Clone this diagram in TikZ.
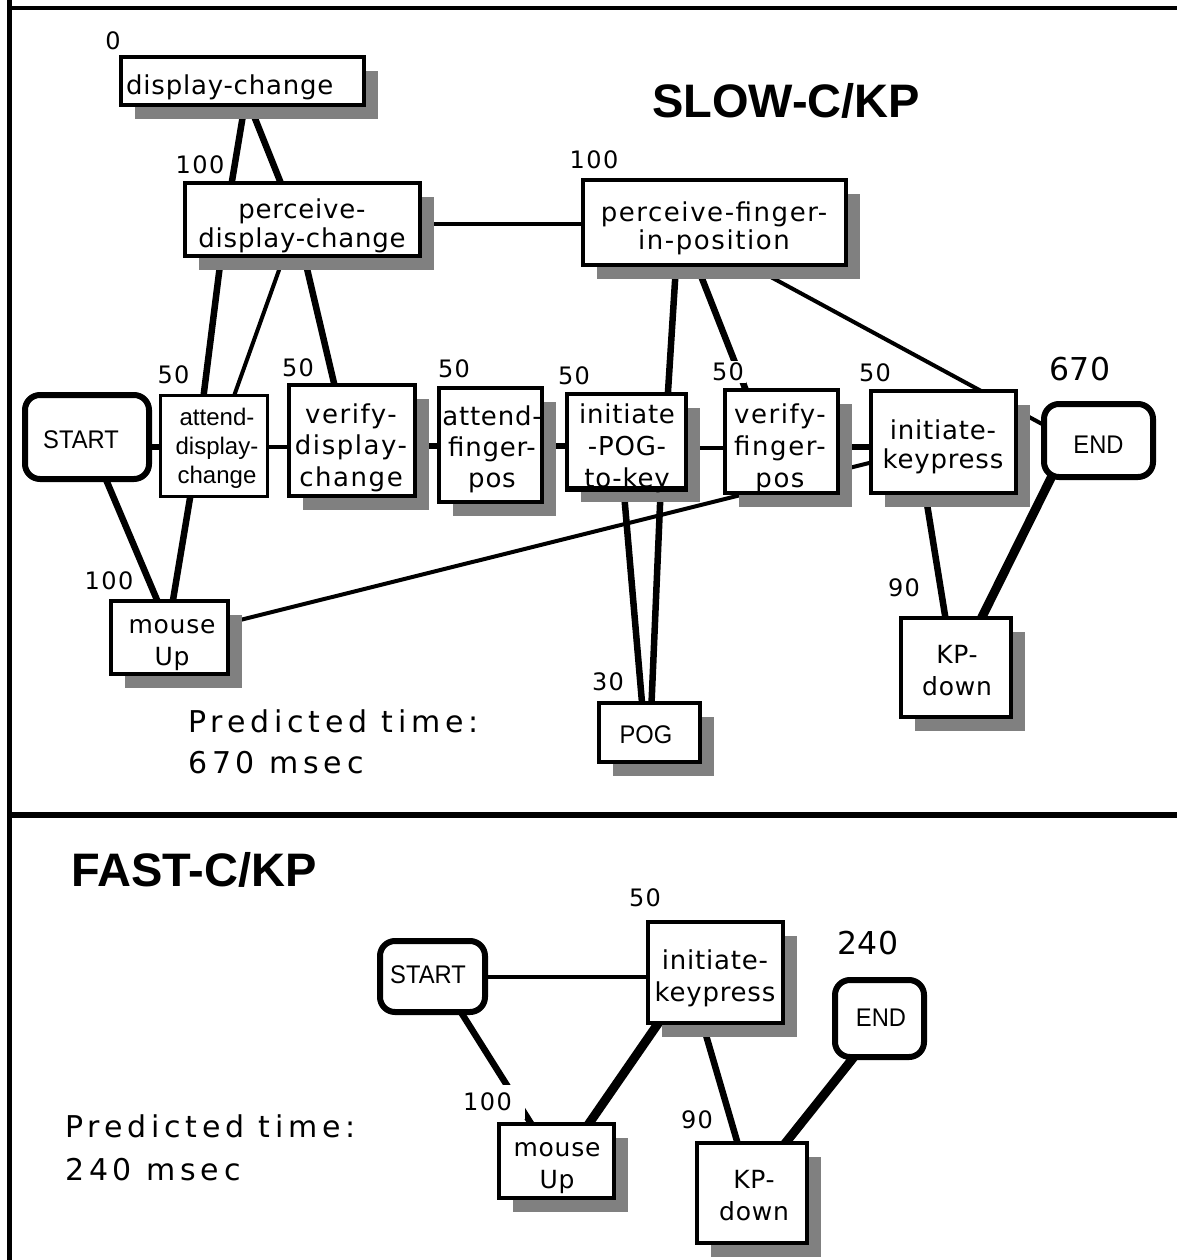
\documentclass[tikz,border=0pt]{standalone}
\usepackage{fontspec}
\usetikzlibrary{calc,shadows,backgrounds}
\newfontfamily\gA[LetterSpace=3]{DejaVu Sans}
\newfontfamily\gB[LetterSpace=6]{DejaVu Sans}
\newfontfamily\gL[LetterSpace=6]{DejaVu Sans}
\newfontfamily\gP[LetterSpace=16]{DejaVu Sans}
\newfontfamily\gN{DejaVu Sans}
\newfontfamily\hN[FakeStretch=0.93]{Liberation Sans}
\newfontfamily\hR{Liberation Sans}
\definecolor{shgray}{RGB}{128,128,128}
\newcommand\tl[1]{\begin{tabular}{@{}c@{}}#1\end{tabular}}
\tikzset{
  sbox/.style={draw, line width=4pt, fill=white, inner sep=0pt,
    drop shadow={shadow xshift=14pt, shadow yshift=-14pt, opacity=1, fill=shgray}},
  pbox/.style={draw, line width=3.5pt, fill=white, inner sep=0pt},
  rbox/.style={draw, line width=6pt, fill=white, rounded corners=15pt, inner sep=0pt},
  txt/.style={inner sep=0pt, anchor=north},
  lab/.style={fill=white, inner sep=2pt, font=\gL\fontsize{24}{26}\selectfont},
  big/.style={inner sep=1pt, font=\gN\fontsize{31.5}{34}\selectfont},
  wthin/.style={line width=4pt},
  wmed/.style={line width=4.5pt},
  wthick/.style={line width=6.5pt},
  wheavy/.style={line width=9pt},
  frame/.style={line width=5pt}
}
\begin{document}
\begin{tikzpicture}[x=1pt,y=-1pt]
\useasboundingbox (0,0) rectangle (1177,1260);
% frame
\draw[frame] (9,0) -- (9,1260);
\draw[frame, line width=4pt] (7,8) -- (1177,8);
\draw[frame, line width=5.5pt] (9,815) -- (1177,815);

% ---------- SLOW ----------
\node[sbox, minimum width=243pt, minimum height=48pt] (dc) at (242.5,81) {};
\node[sbox, minimum width=235pt, minimum height=73pt] (pdc) at (302.5,219.5) {};
\node[sbox, minimum width=263pt, minimum height=85pt] (pfip) at (714.5,222.5) {};
\node[rbox, minimum width=124pt, minimum height=84pt] (st) at (87,437) {};
\node[pbox, minimum width=107pt, minimum height=101pt] (adc) at (214,446) {};
\node[sbox, minimum width=126pt, minimum height=111pt] (vdc) at (352,440.5) {};
\node[sbox, minimum width=103pt, minimum height=114pt] (afp) at (490.5,445) {};
\node[sbox, minimum width=119pt, minimum height=94pt] (ipog) at (626.5,441) {};
\node[sbox, minimum width=113pt, minimum height=103pt] (vfp) at (781.5,441.5) {};
\node[sbox, minimum width=145pt, minimum height=102pt] (ikp) at (943.5,442) {};
\node[rbox, minimum width=109pt, minimum height=73pt] (en) at (1098.5,440.5) {};
\node[sbox, minimum width=117pt, minimum height=73pt] (mu) at (169.5,637.5) {};
\node[sbox, minimum width=110pt, minimum height=99pt] (kpd) at (956,667.5) {};
\node[sbox, minimum width=101pt, minimum height=59pt] (pog) at (649.5,732.5) {};

% texts
\node[inner sep=0pt, anchor=base west, font=\gA\fontsize{26}{30}\selectfont] at (126,95) {display-change};
\node[txt, font=\gA\fontsize{26}{29}\selectfont] at (302,197.7) {\tl{perceive-\\display-change}};
\node[txt, font=\gB\fontsize{26}{28}\selectfont] at (714,201.4) {\tl{perceive-finger-\\in-position}};
\node[inner sep=0pt, anchor=base, font=\hN\fontsize{25.5}{28}\selectfont] at (81,448) {START};
\node[txt, font=\hR\fontsize{24}{29}\selectfont] at (217,404.7) {\tl{attend-\\display-\\change}};
\node[txt, font=\gB\fontsize{26}{31.5}\selectfont] at (351,401) {\tl{verify-\\display-\\change}};
\node[txt, font=\gA\fontsize{26}{31}\selectfont] at (492,403.3) {\tl{attend-\\finger-\\pos}};
\node[txt, font=\gA\fontsize{26}{32}\selectfont] at (627,400.6) {\tl{initiate\\-POG-\\to-key}};
\draw[line width=4pt] (ipog.south west) -- (ipog.south east);
\node[txt, font=\gB\fontsize{26}{32}\selectfont] at (780,400.6) {\tl{verify-\\finger-\\pos}};
\node[txt, font=\gA\fontsize{26}{29}\selectfont] at (943,418.7) {\tl{initiate-\\keypress}};
\node[inner sep=0pt, anchor=base, font=\hN\fontsize{25.5}{28}\selectfont] at (1098.5,453) {END};
\node[txt, font=\gA\fontsize{25}{32}\selectfont] at (172,610.6) {\tl{mouse\\Up}};
\node[txt, font=\gA\fontsize{25}{32}\selectfont] at (957,640.6) {\tl{KP-\\down}};
\node[inner sep=0pt, anchor=base, font=\hN\fontsize{25.5}{28}\selectfont] at (646,743) {POG};

% labels
\node[lab] (l1) at (113,41) {0};
\node[lab] (l2) at (200,165) {100};
\node[lab] (l3) at (594,160) {100};
\node[lab] (l4) at (173.5,375) {50};
\node[lab] (l5) at (298,368) {50};
\node[lab] (l6) at (454,369) {50};
\node[lab] (l7) at (574,376) {50};
\node[lab] (l8) at (728,372) {50};
\node[lab] (l9) at (875,373) {50};
\node[big] (l10) at (1080,369) {670};
\node[lab] (l11) at (904,588) {90};
\node[lab] (l12) at (109,581) {100};
\node[lab] (l13) at (608,682) {30};
\node[inner sep=0pt, anchor=base west, font=\hR\bfseries\fontsize{47}{50}\selectfont] (t1) at (652,118) {SLOW-C/KP};
\node[inner sep=0pt, anchor=north west, font=\gP\fontsize{30}{41}\selectfont] (p1) at (188,703.3) {\begin{tabular}{@{}l@{}}Predicted time:\\670 msec\end{tabular}};

% ---------- FAST ----------
\node[rbox, minimum width=105pt, minimum height=71pt] (stf) at (432.5,976.5) {};
\node[sbox, minimum width=135pt, minimum height=101pt] (ikpf) at (715.5,972.5) {};
\node[rbox, minimum width=89pt, minimum height=77pt] (enf) at (879.5,1018.5) {};
\node[sbox, minimum width=115pt, minimum height=74pt] (muf) at (556.5,1161) {};
\node[sbox, minimum width=110pt, minimum height=100pt] (kpdf) at (752,1193) {};

\node[inner sep=0pt, anchor=base, font=\hN\fontsize{25.5}{28}\selectfont] at (428,983) {START};
\node[txt, font=\gA\fontsize{26}{32}\selectfont] at (715,946.6) {\tl{initiate-\\keypress}};
\node[inner sep=0pt, anchor=base, font=\hN\fontsize{25.5}{28}\selectfont] at (881,1026) {END};
\node[txt, font=\gA\fontsize{25}{32}\selectfont] at (557,1133.6) {\tl{mouse\\Up}};
\node[txt, font=\gA\fontsize{25}{32}\selectfont] at (754,1165.6) {\tl{KP-\\down}};

\node[lab] (f1) at (645,898) {50};
\node[big] (f2) at (868,943) {240};
\node[lab, anchor=west, text width=60pt, align=left, inner ysep=8pt] (f3) at (461,1102) {100};
\node[lab] (f4) at (697,1120) {90};
\node[inner sep=0pt, anchor=base west, font=\hR\bfseries\fontsize{47}{50}\selectfont] (t2) at (71,886) {FAST-C/KP};
\node[inner sep=0pt, anchor=north west, font=\gP\fontsize{30}{43}\selectfont] (p2) at (65,1106.9) {\begin{tabular}{@{}l@{}}Predicted time:\\240 msec\end{tabular}};

% ---------- connectors ----------
\begin{scope}[on background layer]
\draw[wthick] ($(dc)+(3,19)$) -- ($(pdc)+(-72.8,-24.5)$);
\draw[wthick] ($(dc)+(5.1,19)$) -- ($(pdc)+(-16.9,-24.5)$);
\draw[wthick] ($(pdc)+(-80.6,30.5)$) -- ($(adc)+(-13.5,-26)$);
\draw[wthin] ($(pdc)+(-16.3,30.5)$) -- ($(adc)+(11.4,-26)$);
\draw[wthick] ($(pdc)+(0.1,30.5)$) -- ($(vdc)+(-9.3,-20.5)$);
\draw[wthin] ($(pdc)+(0,4.5)$) -- ($(pfip)+(0,1.5)$);
\draw[wthick] ($(st)+(0,10)$) -- ($(adc)+(0,1)$);
\draw[wmed] ($(adc)+(0,1)$) -- ($(vdc)+(0,6.5)$);
\draw[wthick] ($(vdc)+(0,5.5)$) -- ($(afp)+(0,1)$);
\draw[wthick] ($(afp)+(0,1)$) -- ($(ipog)+(0,5)$);
\draw[wthin] ($(ipog)+(0,7)$) -- ($(vfp)+(0,6.5)$);
\draw[wthick] ($(vfp)+(0,5.5)$) -- ($(ikp)+(0,5)$);
\draw[wthick] ($(st)+(10.7,23)$) -- ($(mu)+(-4,-17.5)$);
\draw[wthick] ($(adc)+(-19.3,24)$) -- ($(mu)+(0.2,-17.5)$);
\draw[wthin] ($(mu)+(30.5,-7.5)$) -- ($(ikp)+(-43.5,13.3)$);
\draw[wthick] ($(pfip)+(-37.5,27.5)$) -- ($(ipog)+(39.7,-21)$);
\draw[wthick] ($(pfip)+(-23.7,27.5)$) -- ($(vfp)+(-23.9,-21.5)$);
\draw[wthin] ($(pfip)+(25.5,37.8)$) -- ($(en)+(-18.5,4.1)$);
\draw[wthick] ($(ipog)+(-4.5,29)$) -- ($(pog)+(-6,-12.5)$);
\draw[wthick] ($(ipog)+(35,29)$) -- ($(pog)+(1.3,-12.5)$);
\draw[wthick] ($(ikp)+(-22,28)$) -- ($(kpd)+(-7,-27.5)$);
\draw[wheavy] ($(en)+(-38.6,19.5)$) -- ($(kpd)+(14.6,-27.5)$);
% fast
\draw[wthin] ($(stf)+(0,0.5)$) -- ($(ikpf)+(0,4.5)$);
\draw[wthick] ($(stf)+(20.8,23.5)$) -- ($(muf)+(-15.1,-21)$);
\draw[wheavy] ($(ikpf)+(-41.2,27.5)$) -- ($(muf)+(21.1,-21)$);
\draw[wthick] ($(ikpf)+(-19.8,27.5)$) -- ($(kpdf)+(-8,-28)$);
\draw[wheavy] ($(enf)+(-12,21.5)$) -- ($(kpdf)+(15.9,-28)$);
\end{scope}
\end{tikzpicture}
\end{document}
